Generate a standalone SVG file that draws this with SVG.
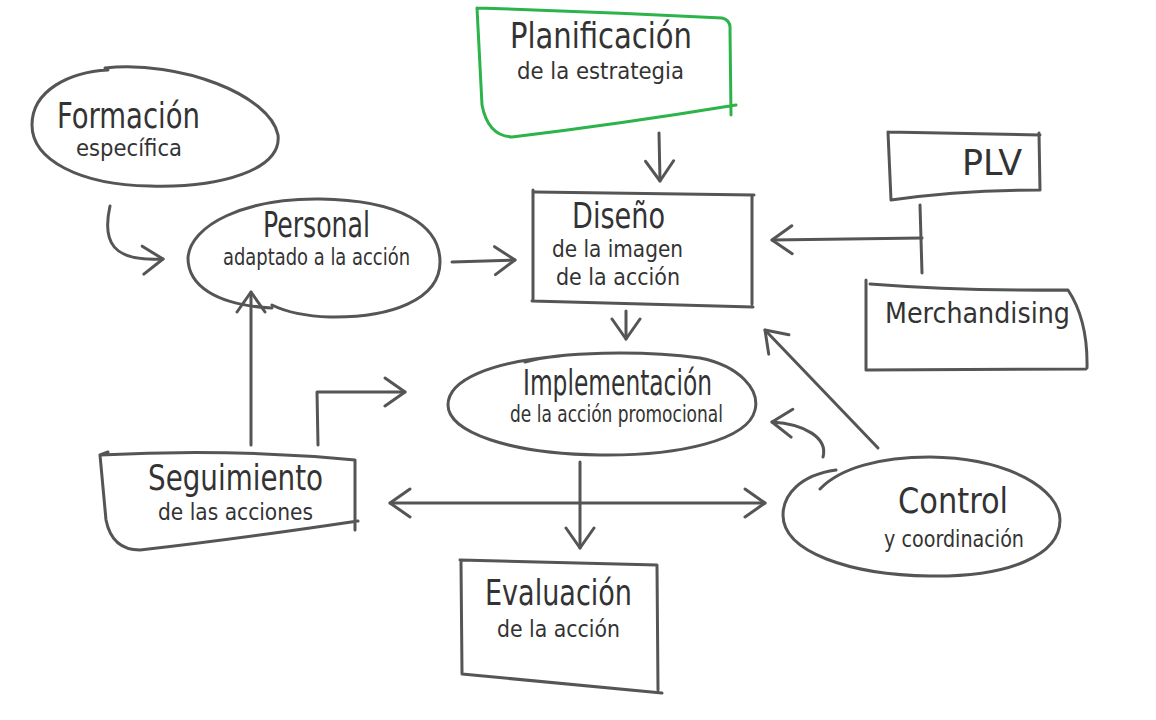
<svg xmlns="http://www.w3.org/2000/svg" width="1156" height="720" viewBox="0 0 1156 720">
<defs>
<style>
.s{fill:none;stroke:#555;stroke-width:3;stroke-linecap:round;stroke-linejoin:round}
.g{fill:none;stroke:#2cb34a;stroke-width:3;stroke-linecap:round;stroke-linejoin:round}
.t{font-family:"Liberation Sans Narrow","DejaVu Sans Condensed","Liberation Sans",sans-serif;fill:#333;text-anchor:start}
.h{font-size:35px}
.m{font-size:23px}
</style>
<marker id="a" viewBox="0 0 30 32" refX="23" refY="16" markerWidth="30" markerHeight="32" markerUnits="userSpaceOnUse" orient="auto-start-reverse">
<path d="M3,2 L23,16 L3,30" fill="none" stroke="#555" stroke-width="3" stroke-linecap="round" stroke-linejoin="round"/>
</marker>
</defs>
<rect width="1156" height="720" fill="#fff"/>

<g id="connectors">
<path class="s" d="M659,133 L660,181" marker-end="url(#a)"/>
<path class="s" d="M110,206 C102,242 112,262 163,259" marker-end="url(#a)"/>
<path class="s" d="M452,262 L515,260" marker-end="url(#a)"/>
<path class="s" d="M626,311 L626,339" marker-end="url(#a)"/>
<path class="s" d="M920,205 L922,273"/>
<path class="s" d="M922,238 L772,240" marker-end="url(#a)"/>
<path class="s" d="M251,445 L251,292" marker-end="url(#a)"/>
<path class="s" d="M318,445 L317,392 L405,392" marker-end="url(#a)"/>
<path class="s" d="M390,503 L765,503" marker-start="url(#a)" marker-end="url(#a)"/>
<path class="s" d="M580,462 L580,548" marker-end="url(#a)"/>
<path class="s" d="M823,457 C828,438 805,424 772,422" marker-end="url(#a)"/>
<path class="s" d="M878,448 L765,330" marker-end="url(#a)"/>
</g>

<g id="planificacion">
<path class="g" d="M477,8 Q600,12 722,18 Q731,20 730,30 L731,115 M736,105 Q620,124 512,137 Q488,136 482,105 L477,8"/>
<text class="t h" x="510" y="48" textLength="182" lengthAdjust="spacingAndGlyphs">Planificación</text>
<text class="t m" x="517" y="79" textLength="167" lengthAdjust="spacingAndGlyphs">de la estrategia</text>
</g>

<g id="formacion">
<path class="s" d="M105,68 C180,60 270,95 278,135 C282,170 220,188 150,186 C80,185 32,160 32,125 C32,90 70,72 108,70"/>
<text class="t h" x="57" y="128" textLength="143" lengthAdjust="spacingAndGlyphs">Formación</text>
<text class="t m" x="76" y="156" textLength="106" lengthAdjust="spacingAndGlyphs">específica</text>
</g>

<g id="personal">
<path class="s" d="M272,308 C215,305 188,285 188,258 C190,225 245,198 320,199 C400,200 440,225 440,262 C440,300 390,318 330,317 C300,316 282,310 272,305"/>
<text class="t h" x="263" y="237" textLength="107" lengthAdjust="spacingAndGlyphs">Personal</text>
<text class="t m" x="223" y="265" textLength="187" lengthAdjust="spacingAndGlyphs">adaptado a la acción</text>
</g>

<g id="diseno">
<path class="s" d="M533,190 L533,301 M532,301 L753,307 M752,304 L752,195 M535,192 L754,195"/>
<text class="t h" x="572" y="228" textLength="93" lengthAdjust="spacingAndGlyphs">Diseño</text>
<text class="t m" x="552" y="257" textLength="131" lengthAdjust="spacingAndGlyphs">de la imagen</text>
<text class="t m" x="556" y="285" textLength="124" lengthAdjust="spacingAndGlyphs">de la acción</text>
</g>

<g id="plv">
<path class="s" d="M888,132 L1040,135 M1039,133 L1040,190 M1040,190 Q960,190 891,200 L888,132"/>
<text class="t h" x="962" y="175" textLength="60" lengthAdjust="spacingAndGlyphs">PLV</text>
</g>

<g id="merchandising">
<path class="s" d="M866,280 L866,370 L1086,369 M870,284 Q960,291 1068,290 Q1088,320 1087,368"/>
<text class="t" style="font-size:29px" x="885" y="323" textLength="185" lengthAdjust="spacingAndGlyphs">Merchandising</text>
</g>

<g id="implementacion">
<path class="s" d="M525,362 C560,352 640,350 700,358 C740,366 760,390 755,410 C748,440 680,456 600,455 C510,454 448,432 448,405 C448,380 490,362 560,356"/>
<text class="t h" x="523" y="395" textLength="189" lengthAdjust="spacingAndGlyphs">Implementación</text>
<text class="t m" x="510" y="422" textLength="213" lengthAdjust="spacingAndGlyphs">de la acción promocional</text>
</g>

<g id="seguimiento">
<path class="s" d="M100,455 Q230,448 355,460 L355,530 M358,521 Q230,540 140,550 Q112,550 106,520 L100,455 M100,455 L108,452"/>
<text class="t h" x="148" y="490" textLength="175" lengthAdjust="spacingAndGlyphs">Seguimiento</text>
<text class="t m" x="158" y="520" textLength="155" lengthAdjust="spacingAndGlyphs">de las acciones</text>
</g>

<g id="evaluacion">
<path class="s" d="M460,560 L657,565 L658,690 M662,693 L462,674 M461,562 L462,673"/>
<text class="t h" x="485" y="605" textLength="147" lengthAdjust="spacingAndGlyphs">Evaluación</text>
<text class="t m" x="497" y="637" textLength="123" lengthAdjust="spacingAndGlyphs">de la acción</text>
</g>

<g id="control">
<path class="s" d="M820,489 C840,468 880,457 930,457 C1010,458 1060,490 1060,520 C1060,555 1010,577 930,576 C850,575 783,552 783,515 C783,495 800,475 836,470"/>
<text class="t h" x="898" y="513" textLength="110" lengthAdjust="spacingAndGlyphs">Control</text>
<text class="t m" x="884" y="547" textLength="140" lengthAdjust="spacingAndGlyphs">y coordinación</text>
</g>
</svg>
